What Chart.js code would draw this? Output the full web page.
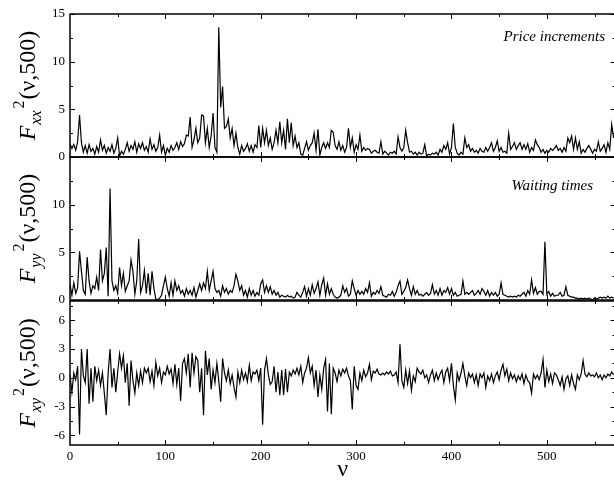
<!DOCTYPE html>
<html>
<head>
<meta charset="utf-8">
<script src="https://cdn.jsdelivr.net/npm/chart.js@4.4.1/dist/chart.umd.min.js"></script>
<style>
  html, body { margin: 0; padding: 0; background: #fff; overflow: hidden; }
  #wrap { position: relative; width: 614px; height: 481px; overflow: hidden; }
  #wrap canvas { position: absolute; left: 0; top: 0; }
</style>
</head>
<body>
<div id="wrap">
  <canvas id="panelTop" width="620" height="481"></canvas>
  <canvas id="panelMid" width="620" height="481"></canvas>
  <canvas id="panelBot" width="620" height="481"></canvas>
</div>
<script>
// --- Datos ---
// frecuencia nu, una muestra cada 2 unidades (0..570)
const nuStep = 2;
const nu = Array.from({ length: 286 }, (_, i) => i * nuStep);

// F_xx^2(nu,500) - incrementos de precio
const fxx = [
  1.4, 0.9, 1.3, 0.7, 1.6, 4.4, 1.5, 0.5, 1.2, 0.4,
  1.3, 0.6, 0.9, 0.3, 1.1, 0.5, 1.8, 0.7, 1.2, 0.4,
  1.0, 0.6, 1.3, 0.4, 0.9, 2.0, 0.1, 0.6, 0.3, 0.8,
  1.5, 0.6, 1.2, 0.8, 1.6, 0.5, 1.4, 0.9, 1.5, 0.7,
  1.1, 0.5, 1.9, 0.8, 1.3, 0.6, 1.0, 2.3, 0.5, 1.2,
  0.2, 0.9, 0.5, 1.2, 0.7, 1.0, 1.5, 0.8, 1.6, 1.1,
  1.4, 2.3, 2.2, 4.2, 1.0, 1.8, 3.0, 1.5, 2.0, 4.4,
  4.3, 1.5, 3.0, 1.0, 2.2, 4.6, 1.0, 0.5, 13.6, 5.2,
  7.4, 3.0, 3.2, 4.0, 2.0, 3.0, 1.2, 2.5, 1.0, 0.3,
  1.2, 0.6, 0.9, 1.4, 0.6, 1.2, 0.5, 1.3, 1.0, 3.3,
  1.0, 3.0, 1.5, 2.8, 1.2, 2.0, 0.8, 1.5, 2.8, 1.5,
  3.7, 1.5, 2.8, 0.8, 4.0, 1.5, 3.6, 1.2, 2.2, 1.0,
  1.5, 0.3, 0.2, 0.9, 1.6, 0.7, 1.2, 1.5, 2.5, 0.7,
  2.9, 0.2, 1.0, 1.5, 0.9, 1.5, 1.0, 2.8, 2.6, 1.2,
  0.8, 1.6, 0.7, 1.2, 0.5, 1.0, 3.0, 1.0, 2.0, 0.5,
  1.3, 0.8, 2.3, 0.6, 1.0, 0.7, 0.9, 0.8, 0.4, 0.6,
  0.7, 0.5, 0.4, 1.6, 0.3, 0.6, 0.4, 0.2, 0.5, 0.4,
  0.6, 0.3, 2.1, 1.0, 0.6, 1.0, 2.8, 1.5, 0.5, 0.6,
  0.3, 0.5, 0.2, 0.5, 0.3, 0.4, 1.3, 0.1, 0.3, 0.2,
  0.4, 0.3, 0.5, 0.2, 0.8, 0.5, 1.2, 0.8, 1.5, 0.3,
  1.0, 3.5, 1.0, 0.4, 0.2, 0.5, 0.3, 2.0, 1.0, 1.3,
  0.6, 0.9, 0.5, 0.7, 0.4, 0.9, 0.6, 0.5, 1.0, 0.6,
  1.0, 1.5, 0.6, 1.0, 1.7, 0.6, 1.0, 0.5, 0.6, 0.4,
  2.5, 0.8, 1.1, 1.5, 0.8, 1.2, 1.5, 0.8, 1.3, 0.8,
  1.4, 0.5, 1.0, 0.7, 1.8, 1.3, 1.0, 0.5, 0.8, 0.4,
  0.7, 0.5, 0.9, 0.7, 0.9, 1.2, 0.7, 0.9, 0.5, 1.0,
  0.6, 2.0, 1.5, 2.2, 0.8, 2.0, 0.8, 1.6, 0.4, 0.8,
  0.5, 0.9, 1.2, 0.8, 0.4, 0.8, 0.6, 1.6, 0.6, 0.9,
  1.3, 0.5, 1.5, 0.8, 3.4, 2.0
];

// F_yy^2(nu,500) - tiempos de espera
const fyy = [
  1.7, 0.5, 1.8, 0.7, 1.3, 5.1, 3.0, 1.0, 0.6, 4.5,
  2.0, 0.7, 1.5, 1.2, 2.4, 1.0, 5.3, 2.0, 2.8, 5.5,
  0.4, 11.7, 2.0, 1.0, 1.5, 0.7, 3.4, 1.5, 2.8, 0.9,
  1.5, 2.0, 4.2, 3.0, 0.6, 2.0, 6.4, 0.8, 1.5, 3.1,
  0.7, 2.8, 0.5, 3.0, 1.2, 0.1, 0.0, 0.2, 0.5, 1.5,
  2.4, 1.2, 0.4, 1.8, 0.5, 2.0, 1.0, 1.5, 0.7, 1.0,
  0.4, 1.2, 0.6, 1.0, 0.5, 1.3, 0.3, 1.0, 1.7, 1.0,
  1.8, 1.2, 3.0, 1.0, 2.0, 3.0, 1.2, 0.8, 1.0, 0.4,
  1.5, 0.8, 1.2, 0.6, 1.0, 0.8, 1.5, 2.7, 2.0, 1.0,
  1.5, 0.5, 1.0, 0.3, 1.2, 0.5, 1.0, 0.4, 0.8, 0.5,
  1.7, 2.1, 0.8, 1.5, 0.8, 1.4, 0.6, 1.0, 0.5, 0.8,
  0.3, 0.5, 0.4, 0.3, 0.5, 0.3, 0.4, 0.2, 0.3, 0.8,
  0.5, 0.3, 0.8, 1.4, 0.4, 1.2, 0.5, 1.6, 0.7, 1.2,
  1.9, 0.5, 1.6, 2.3, 0.5, 1.7, 0.6, 1.2, 0.6, 0.3,
  0.2, 0.3, 0.5, 1.5, 0.8, 1.2, 0.4, 0.6, 2.0, 1.2,
  0.5, 1.0, 0.6, 0.9, 0.6, 1.2, 0.8, 1.8, 0.4, 0.8,
  0.6, 1.0, 0.7, 1.4, 0.5, 0.4, 0.3, 0.6, 0.5, 0.9,
  0.4, 0.8, 1.5, 2.0, 0.6, 0.9, 1.3, 2.1, 1.2, 0.5,
  1.4, 0.6, 1.0, 0.5, 0.6, 0.4, 0.6, 0.8, 0.5, 0.7,
  1.6, 0.6, 1.0, 0.5, 1.2, 0.5, 1.0, 0.8, 1.3, 0.6,
  1.2, 0.5, 0.8, 0.4, 0.5, 0.6, 2.0, 0.6, 0.8, 0.6,
  0.8, 1.0, 0.5, 0.7, 1.0, 0.6, 1.2, 0.9, 0.5, 1.0,
  0.4, 0.8, 0.5, 0.8, 0.4, 0.6, 1.8, 0.6, 0.5, 0.4,
  0.3, 0.4, 0.3, 0.4, 0.3, 0.5, 0.4, 0.6, 0.8, 0.4,
  1.0, 0.6, 2.1, 0.7, 1.3, 0.6, 0.9, 0.9, 0.6, 6.1,
  0.6, 0.9, 0.4, 0.7, 0.4, 0.5, 0.5, 0.8, 0.4, 0.5,
  1.4, 0.5, 0.4, 0.3, 0.3, 0.2, 0.2, 0.1, 0.2, 0.1,
  0.2, 0.1, 0.2, 0.1, 0.0, 0.2, 0.1, 0.2, 0.3, 0.2,
  0.3, 0.2, 0.4, 0.2, 0.3, 0.2
];

// F_xy^2(nu,500) - cruzado
const fxy = [
  0.3, -1.5, 0.5, -0.2, 1.2, -5.9, 3.0, 0.2, -0.5, 3.0,
  -2.7, 1.0, -2.5, 1.2, -0.3, 0.8, -0.8, 0.5, -1.6, -3.9,
  0.5, 3.0, -1.0, 1.0, -1.5, 0.6, 2.5, 1.0, 2.3, -0.5,
  1.5, -2.9, 1.8, -0.3, -1.6, 0.5, -0.8, 0.7, -0.5, 1.0,
  0.5, 1.0, -0.4, 0.7, -0.8, 1.6, 0.2, 1.0, -0.5, 0.6,
  0.3, 1.2, 0.4, 0.9, -0.6, 1.4, -0.7, 1.0, -2.4, 1.5,
  2.0, 0.5, 2.5, -1.0, 2.6, 0.5, 2.2, 1.8, -1.5, 1.0,
  -3.9, 2.8, 0.3, 2.0, -1.2, 0.8, -0.5, 1.5, -0.3, -2.5,
  2.0, 0.5, -0.3, 0.8, -0.6, 0.3, -1.0, -2.0, 0.6, -0.5,
  0.8, -0.2, 0.5, -0.4, 1.3, -0.3, 0.6, 0.4, 0.8, -0.3,
  1.0, -4.9, 0.8, 2.0, 0.3, -0.7, -0.4, 1.2, -1.5, 0.6,
  -1.8, 0.8, -1.8, 0.9, -1.5, 0.6, 0.2, 0.8, 0.4, 1.0,
  0.3, 1.2, -0.5, 0.5, 1.0, 2.1, 0.5, 1.2, -0.8, 0.8,
  -2.0, 0.3, -1.2, 1.0, 1.9, -3.5, 1.5, -3.8, 1.0, 0.5,
  -0.4, 0.8, 0.2, 0.9, 0.5, 1.0, 0.2, -0.3, -3.3, 1.2,
  -0.8, -1.2, 0.5, -0.3, 0.8, 0.1, 0.5, 1.4, -0.2, 0.7,
  0.5, 0.9, 0.4, 0.3, 0.5, 0.3, 0.6, 0.4, 0.7, 0.2,
  0.3, 0.6, -0.5, 3.5, -0.3, -1.0, 0.8, -0.6, 0.7, -1.3,
  0.2, -0.4, 1.0, 0.6, 0.4, 0.8, 0.0, 0.3, -0.5, 0.3,
  0.8, -0.3, 0.5, -0.2, 0.4, 0.8, -0.5, 0.6, 1.0, -0.3,
  1.5, -0.8, -2.3, 0.5, -0.3, 0.5, 1.5, 0.2, -0.8, 0.5,
  0.0, 0.4, -0.5, 0.3, -0.8, 0.4, 0.0, 0.5, -1.0, 0.2,
  -0.3, 0.4, -0.5, 0.2, 0.6, -0.2, 0.8, 1.4, 0.2, 0.9,
  -0.3, 0.5, -0.1, 0.3, -0.4, 0.2, -0.2, 0.4, -0.6, 0.3,
  -0.3, -0.5, -1.6, 0.4, -0.1, 0.3, -0.2, 0.5, 1.9, -1.0,
  0.8, -0.4, 0.4, -0.6, 0.5, 0.3, -0.2, -0.8, 0.1, -1.2,
  -0.1, 0.2, -0.8, 0.3, -0.6, -1.2, 0.3, -0.2, 0.4, 1.8,
  0.4, 0.1, 0.5, 0.2, 0.3, 0.1, 0.5, 0.0, 0.3, -0.2,
  0.3, 0.0, 0.4, 0.2, 0.6, 0.3
];

// rangos y etiquetas de los ejes
const xRange = [0, 572];
const xTickLabels = [0, 100, 200, 300, 400, 500];
const yRangeTop = [0, 15], yTicksTop = [0, 5, 10, 15];
const yRangeMid = [0, 15], yTicksMid = [0, 5, 10];
const yRangeBot = [-7, 8], yTicksBot = [-6, -3, 0, 3, 6];

const SERIF = "'Liberation Serif', 'Times New Roman', serif";

// --- Plugin: marco completo, marcas hacia dentro, titulo y nota ---
const marcoPlugin = {
    id: 'marco',
    afterDraw(chart, args, opts) {
        const { ctx, chartArea: a, scales: { x, y } } = chart;
        ctx.save();
        ctx.strokeStyle = '#000';
        ctx.lineWidth = 1.5;
        ctx.strokeRect(a.left, a.top, a.right - a.left, a.bottom - a.top);

        // marcas en x (arriba y abajo), mayores cada 100, menores cada 50
        ctx.lineWidth = 1;
        ctx.beginPath();
        for (let v = xRange[0] + 50; v < xRange[1]; v += 50) {
            const px = Math.round(x.getPixelForValue(v)) + 0.5;
            const len = v % 100 === 0 ? 5 : 3;
            ctx.moveTo(px, a.top); ctx.lineTo(px, a.top + len);
            ctx.moveTo(px, a.bottom); ctx.lineTo(px, a.bottom - len);
        }
        // marcas en y (izquierda y derecha)
        const half = opts.step / 2;
        for (let v = Math.ceil(y.min / half) * half; v <= y.max; v += half) {
            const py = Math.round(y.getPixelForValue(v)) + 0.5;
            const len = Math.abs(v % opts.step) < 1e-9 ? 5 : 3;
            ctx.moveTo(a.left, py); ctx.lineTo(a.left + len, py);
            ctx.moveTo(a.right, py); ctx.lineTo(a.right - len, py);
        }
        ctx.stroke();

        // titulo vertical F_sub^2(nu,500)
        const partes = [
            { t: 'F', f: 'italic 24px ' + SERIF, dy: 0, gap: 0 },
            { t: opts.sub, f: 'italic 16px ' + SERIF, dy: 6, gap: 1 },
            { t: '2', f: '16px ' + SERIF, dy: -11, gap: 2 },
            { t: '(\u03BD,500)', f: '24px ' + SERIF, dy: 0, gap: 1 }
        ];
        let total = 0;
        partes.forEach(p => { ctx.font = p.f; p.w = ctx.measureText(p.t).width; total += p.w + p.gap; });
        ctx.translate(35, (a.top + a.bottom) / 2);
        ctx.rotate(-Math.PI / 2);
        ctx.fillStyle = '#000';
        ctx.textBaseline = 'alphabetic';
        ctx.textAlign = 'left';
        let cx = -total / 2;
        partes.forEach(p => {
            cx += p.gap;
            ctx.font = p.f;
            ctx.fillText(p.t, cx, p.dy);
            cx += p.w;
        });
        ctx.restore();

        // nota en cursiva
        if (opts.nota) {
            ctx.save();
            ctx.font = 'italic 15px ' + SERIF;
            ctx.fillStyle = '#000';
            ctx.textAlign = 'right';
            ctx.fillText(opts.nota.texto, opts.nota.x, opts.nota.y);
            ctx.restore();
        }
    }
};

function crearPanel(id, valores, cfg) {
    const puntos = nu.map((v, i) => ({ x: v, y: valores[i] }));
    return new Chart(document.getElementById(id), {
        type: 'line',
        data: {
            datasets: [{
                data: puntos,
                borderColor: '#000',
                borderWidth: 1.2,
                pointRadius: 0,
                tension: 0,
                fill: false
            }]
        },
        options: {
            responsive: false,
            animation: false,
            events: [],
            layout: { padding: { top: cfg.top, bottom: cfg.bottom, left: 0, right: 4.5 } },
            plugins: {
                legend: { display: false },
                tooltip: { enabled: false },
                marco: { step: cfg.step, sub: cfg.sub, nota: cfg.nota }
            },
            scales: {
                x: {
                    type: 'linear',
                    min: xRange[0],
                    max: xRange[1],
                    display: cfg.showX,
                    grid: { display: false, drawTicks: false },
                    border: { display: false },
                    afterBuildTicks: s => { s.ticks = xTickLabels.map(v => ({ value: v })); },
                    ticks: {
                        color: '#000',
                        padding: 4,
                        maxRotation: 0,
                        autoSkip: false,
                        font: { family: SERIF, size: 13 }
                    },
                    title: {
                        display: cfg.showX,
                        text: '\u03BD',
                        color: '#000',
                        padding: { top: 0, bottom: -3 },
                        font: { family: SERIF, size: 24 }
                    },
                    afterFit: s => { if (cfg.showX) s.height = 36; }
                },
                y: {
                    min: cfg.range[0],
                    max: cfg.range[1],
                    grid: { display: false, drawTicks: false },
                    border: { display: false },
                    afterBuildTicks: s => { s.ticks = cfg.ticks.map(v => ({ value: v })); },
                    ticks: {
                        color: '#000',
                        padding: 5,
                        autoSkip: false,
                        font: { family: SERIF, size: 13 }
                    },
                    afterFit: s => { s.width = 70; }
                }
            }
        },
        plugins: [marcoPlugin]
    });
}

crearPanel('panelTop', fxx, {
    top: 14, bottom: 481 - 157, range: yRangeTop, ticks: yTicksTop, step: 5, sub: 'xx',
    showX: false,
    nota: { texto: 'Price increments', x: 605, y: 41 }
});
crearPanel('panelMid', fyy, {
    top: 157, bottom: 481 - 300, range: yRangeMid, ticks: yTicksMid, step: 5, sub: 'yy',
    showX: false,
    nota: { texto: 'Waiting times', x: 593, y: 190 }
});
crearPanel('panelBot', fxy, {
    top: 301, bottom: 0, range: yRangeBot, ticks: yTicksBot, step: 3, sub: 'xy',
    showX: true, nota: null
});
</script>
</body>
</html>
